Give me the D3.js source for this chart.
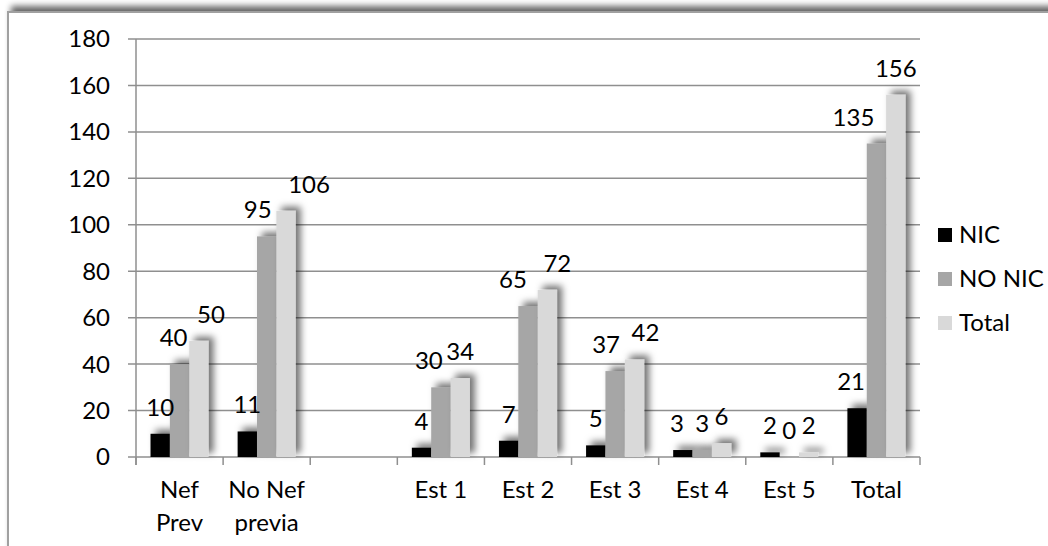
<!DOCTYPE html>
<html lang="es">
<head>
<meta charset="utf-8">
<title>NIC / NO NIC</title>
<script src="https://d3js.org/d3.v7.min.js"></script>
<style>
  body { margin: 0; background: #fff; }
  svg text { font-family: Lato, "Open Sans", sans-serif; fill: #000; }
</style>
</head>
<body>
<script>
// categories and values
var categories = ["Nef Prev", "No Nef previa", "", "Est 1", "Est 2", "Est 3", "Est 4", "Est 5", "Total"];
var tickLines = [["Nef", "Prev"], ["No Nef", "previa"], [], ["Est 1"], ["Est 2"], ["Est 3"], ["Est 4"], ["Est 5"], ["Total"]];
var seriesNames = ["NIC", "NO NIC", "Total"];
var nicValues = [10, 11, null, 4, 7, 5, 3, 2, 21];
var noNicValues = [40, 95, null, 30, 65, 37, 3, 0, 135];
var totalValues = [50, 106, null, 34, 72, 42, 6, 2, 156];
var yTicks = [0, 20, 40, 60, 80, 100, 120, 140, 160, 180];

var colors = {"NIC": "#000000", "NO NIC": "#a6a6a6", "Total": "#d9d9d9"};
// labels that were nudged sideways in the original
var labelNudge = {
  "NIC": [0, 0, 0, 0, 0, 0, -6, 0, -6],
  "NO NIC": [-6, -9, 0, -12, -15, -9, 0, 0, -23],
  "Total": [12, 23, 0, 0, 10, 11, 0, 0, 0]
};

var series = [
  {name: "NIC", values: nicValues},
  {name: "NO NIC", values: noNicValues},
  {name: "Total", values: totalValues}
];

var w = 1048, h = 546;
var plotL = 136, plotR = 920, plotT = 39, plotB = 457;
var fontSize = "24px";

var svg = d3.select("body").append("svg")
  .attr("width", w).attr("height", h);

var defs = svg.append("defs");

var fs = defs.append("filter").attr("id", "frameShadow")
  .attr("x", "-5%").attr("y", "-10%").attr("width", "110%").attr("height", "120%");
fs.append("feGaussianBlur").attr("in", "SourceAlpha").attr("stdDeviation", 3).attr("result", "b");
fs.append("feOffset").attr("in", "b").attr("dx", 4).attr("dy", -5).attr("result", "o");
fs.append("feComponentTransfer").attr("in", "o").attr("result", "s")
  .append("feFuncA").attr("type", "linear").attr("slope", 0.6);
var fm = fs.append("feMerge");
fm.append("feMergeNode").attr("in", "s");
fm.append("feMergeNode").attr("in", "SourceGraphic");

var bs = defs.append("filter").attr("id", "barShadow")
  .attr("x", "-50%").attr("y", "-50%").attr("width", "200%").attr("height", "200%");
bs.append("feDropShadow").attr("dx", 5).attr("dy", -4).attr("stdDeviation", 3.5)
  .attr("flood-color", "#000").attr("flood-opacity", 0.55);

// outer chart frame
svg.append("rect")
  .attr("x", 8).attr("y", 12).attr("width", 1200).attr("height", 700)
  .attr("fill", "#fff").attr("stroke", "#a0a0a0").attr("stroke-width", 2)
  .attr("filter", "url(#frameShadow)");

var x0 = d3.scaleBand().domain(d3.range(categories.length)).range([plotL, plotR]).padding(0);
var bw = x0.bandwidth();
var x1 = d3.scaleBand().domain(seriesNames).range([bw / 6, bw * 5 / 6]).padding(0);
var y = d3.scaleLinear().domain([0, 180]).range([plotB, plotT]);

// gridlines
svg.append("g").selectAll("line").data(yTicks).enter().append("line")
  .attr("x1", plotL - 8).attr("x2", plotR)
  .attr("y1", function(d) { return y(d); }).attr("y2", function(d) { return y(d); })
  .attr("stroke", "#8f8f8f").attr("stroke-width", 1.5);

// y axis line
svg.append("line")
  .attr("x1", plotL).attr("x2", plotL).attr("y1", plotT).attr("y2", plotB + 8)
  .attr("stroke", "#8f8f8f").attr("stroke-width", 1.5);

// x axis ticks at category boundaries
var bounds = d3.range(categories.length + 1).map(function(i) { return plotL + i * bw; });
svg.append("g").selectAll("line").data(bounds).enter().append("line")
  .attr("x1", function(d) { return d; }).attr("x2", function(d) { return d; })
  .attr("y1", plotB).attr("y2", plotB + 8)
  .attr("stroke", "#8f8f8f").attr("stroke-width", 1.5);

// y tick labels
svg.append("g").selectAll("text").data(yTicks).enter().append("text")
  .attr("x", 110).attr("y", function(d) { return y(d); })
  .attr("dy", "0.35em").attr("text-anchor", "end")
  .style("font-size", fontSize)
  .text(function(d) { return d; });

// x tick labels
var xl = svg.append("g").selectAll("text").data(tickLines).enter().append("text")
  .attr("text-anchor", "middle")
  .attr("x", function(d, i) { return x0(i) + bw / 2; })
  .attr("y", 498)
  .style("font-size", fontSize);
xl.selectAll("tspan").data(function(d) { return d; }).enter().append("tspan")
  .attr("x", function() { return d3.select(this.parentNode).attr("x"); })
  .attr("dy", function(d, i) { return i === 0 ? 0 : 33; })
  .text(function(d) { return d; });

// bars
var groups = svg.append("g").selectAll("g").data(series).enter().append("g")
  .attr("filter", "url(#barShadow)");

groups.each(function(s) {
  var g = d3.select(this);
  var pts = s.values.map(function(v, i) { return {i: i, v: v}; })
    .filter(function(p) { return p.v !== null && p.v > 0; });
  g.selectAll("rect").data(pts).enter().append("rect")
    .attr("x", function(p) { return x0(p.i) + x1(s.name); })
    .attr("width", x1.bandwidth())
    .attr("y", function(p) { return y(p.v); })
    .attr("height", function(p) { return plotB - y(p.v); })
    .attr("fill", colors[s.name]);
});

// value labels
series.forEach(function(s) {
  var pts = s.values.map(function(v, i) { return {i: i, v: v}; })
    .filter(function(p) { return p.v !== null; });
  svg.append("g").selectAll("text").data(pts).enter().append("text")
    .attr("text-anchor", "middle")
    .attr("x", function(p) { return x0(p.i) + x1(s.name) + x1.bandwidth() / 2 + labelNudge[s.name][p.i]; })
    .attr("y", function(p) { return y(p.v) - 18; })
    .style("font-size", fontSize)
    .text(function(p) { return p.v; });
});

// legend
var legend = svg.append("g").selectAll("g").data(seriesNames).enter().append("g")
  .attr("transform", function(d, i) { return "translate(938," + (235 + i * 44) + ")"; });
legend.append("rect")
  .attr("x", 0).attr("y", -7).attr("width", 14).attr("height", 14)
  .attr("fill", function(d) { return colors[d]; });
legend.append("text")
  .attr("x", 21).attr("y", 0).attr("dy", "0.35em")
  .style("font-size", fontSize)
  .text(function(d) { return d; });
</script>
</body>
</html>
